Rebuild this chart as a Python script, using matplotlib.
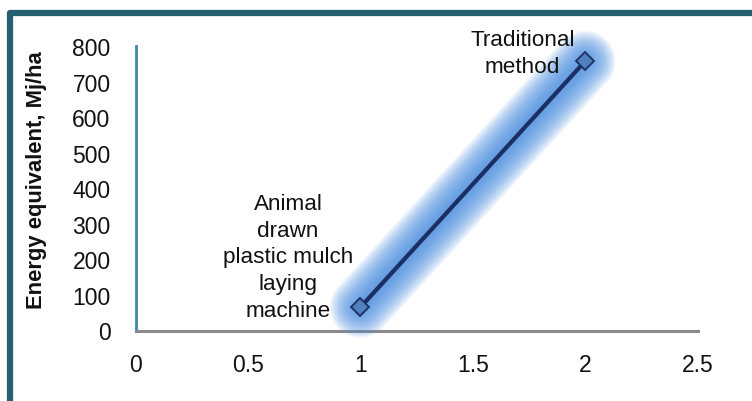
import matplotlib.pyplot as plt
from matplotlib.lines import Line2D

x_vals = [1, 2]
energy = [65, 757]
labels = ['Animal\ndrawn\nplastic mulch\nlaying\nmachine', 'Traditional\nmethod']
label_pos = [(0.678, 207), (1.722, 781)]

plt.rcParams['font.family'] = ['Liberation Sans', 'DejaVu Sans']

fig = plt.figure(figsize=(7.52, 4.02), dpi=100)
ax = fig.add_axes([135.5/752, 1-331.5/402, (697.5-135.5)/752, (331.5-47)/402])

# outer frame: only the top and left edges show in the reference
frame = Line2D([10/752, 10/752, 1.05], [-0.05, 1-13.5/402, 1-13.5/402],
               transform=fig.transFigure, color='#265f6f', linewidth=4.5,
               solid_joinstyle='round', clip_on=False)
fig.add_artist(frame)

# soft glow around the line
n = 22
for i in range(n):
    w = 4 + i * 1.9
    ax.plot(x_vals, energy, color='#4a8fe3', linewidth=w, alpha=0.075,
            solid_capstyle='round', zorder=3, clip_on=False)

ax.plot(x_vals, energy, color='#1b2f63', linewidth=3, zorder=4, clip_on=False)
ax.plot(x_vals, energy, linestyle='none', marker='D', markersize=9,
        markerfacecolor='#4f81bd', markeredgecolor='#1b2f63',
        markeredgewidth=1.3, zorder=5, clip_on=False)

for (tx, ty), txt in zip(label_pos, labels):
    ax.text(tx, ty, txt, ha='center', va='center', fontsize=16.2,
            linespacing=1.35, color='#111111', zorder=6)

ax.set_xlim(0, 2.5)
ax.set_ylim(0, 800)
ax.set_xticks([0, 0.5, 1, 1.5, 2, 2.5])
ax.set_xticklabels(['0', '0.5', '1', '1.5', '2', '2.5'])
ax.set_yticks(range(0, 801, 100))
ax.tick_params(axis='both', length=0, labelsize=16.5, colors='#111111')
ax.tick_params(axis='y', pad=18)
ax.tick_params(axis='x', pad=16)

ax.spines['top'].set_visible(False)
ax.spines['right'].set_visible(False)
ax.spines['left'].set_color('#3a8aa8')
ax.spines['left'].set_linewidth(2)
ax.spines['bottom'].set_color('#8a8a8a')
ax.spines['bottom'].set_linewidth(2.2)

ax.set_ylabel('Energy equivalent, Mj/ha', fontsize=15.8, fontweight='bold',
              color='#111111')
ax.yaxis.set_label_coords(-0.157, 0.533)

fig.savefig('out.png', dpi=100)
